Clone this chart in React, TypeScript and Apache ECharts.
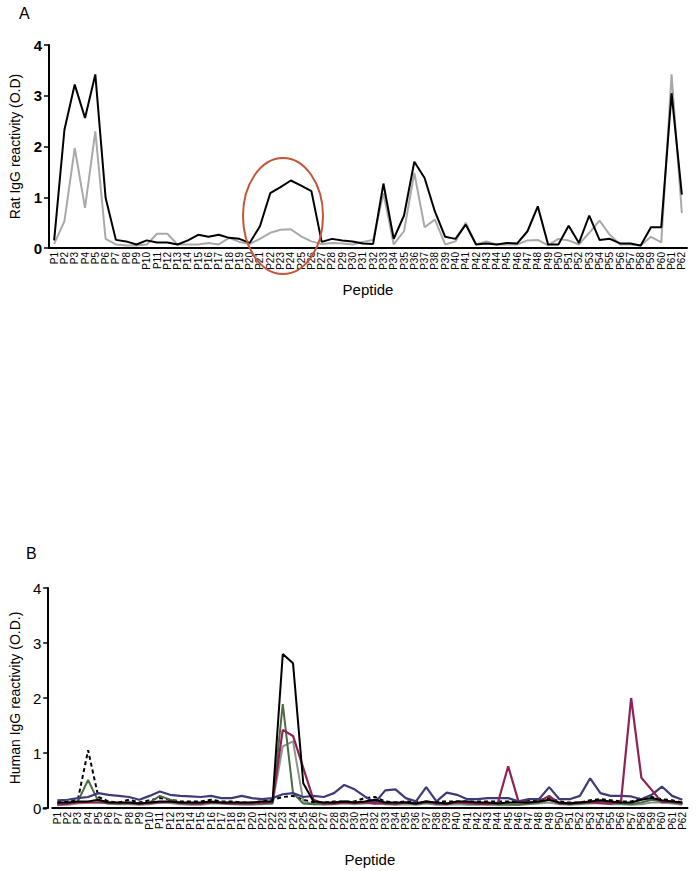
import React, { useEffect, useRef } from "react";
import * as echarts from "echarts";

const peptides: string[] = Array.from({ length: 62 }, (_, i) => "P" + (i + 1));

// Panel A (rat)
const ratBlack = [0.15,2.33,3.22,2.56,3.42,0.99,0.16,0.13,0.07,0.15,
  0.11,0.11,0.07,0.15,0.26,0.22,0.26,0.2,0.18,0.1,
  0.43,1.08,1.2,1.33,1.23,1.12,0.12,0.18,0.15,0.13,
  0.09,0.08,1.27,0.18,0.64,1.7,1.38,0.72,0.22,0.18,
  0.46,0.07,0.09,0.07,0.1,0.09,0.33,0.82,0.07,0.07,
  0.44,0.1,0.64,0.16,0.18,0.09,0.09,0.05,0.41,0.41,
  3.05,1.05];
const ratGray = [0.08,0.53,1.97,0.79,2.3,0.18,0.07,0.05,0.05,0.07,
  0.28,0.28,0.07,0.07,0.07,0.1,0.07,0.2,0.12,0.08,
  0.18,0.3,0.36,0.37,0.23,0.13,0.08,0.1,0.09,0.07,
  0.12,0.16,1.08,0.07,0.33,1.48,0.41,0.56,0.07,0.13,
  0.5,0.07,0.13,0.07,0.07,0.07,0.15,0.16,0.05,0.18,
  0.15,0.07,0.3,0.54,0.26,0.07,0.07,0.05,0.22,0.11,
  3.42,0.69];

// Panel B (human)
const humBlack = [0.1,0.1,0.12,0.12,0.15,0.1,0.1,0.1,0.08,0.1,
  0.12,0.12,0.1,0.1,0.1,0.12,0.1,0.1,0.1,0.1,
  0.12,0.12,2.8,2.63,0.45,0.12,0.1,0.1,0.12,0.1,
  0.12,0.15,0.1,0.1,0.1,0.08,0.12,0.1,0.08,0.12,
  0.12,0.1,0.1,0.08,0.1,0.1,0.1,0.12,0.15,0.1,
  0.08,0.1,0.12,0.14,0.12,0.1,0.1,0.15,0.18,0.14,
  0.12,0.1];
const humDashed = [0.1,0.12,0.15,1.05,0.2,0.12,0.1,0.15,0.1,0.14,
  0.18,0.15,0.12,0.12,0.12,0.15,0.12,0.12,0.1,0.1,
  0.12,0.15,0.2,0.22,0.15,0.1,0.1,0.12,0.12,0.12,
  0.18,0.2,0.12,0.1,0.12,0.12,0.1,0.12,0.12,0.12,
  0.12,0.12,0.12,0.12,0.12,0.12,0.14,0.14,0.18,0.12,
  0.1,0.1,0.14,0.16,0.14,0.12,0.12,0.18,0.2,0.16,
  0.14,0.1];
const humGreen = [0.06,0.08,0.12,0.51,0.12,0.08,0.08,0.1,0.07,0.1,
  0.22,0.15,0.1,0.08,0.08,0.1,0.1,0.09,0.08,0.08,
  0.08,0.08,1.89,0.27,0.08,0.07,0.08,0.1,0.12,0.1,
  0.1,0.12,0.08,0.07,0.1,0.07,0.1,0.08,0.08,0.1,
  0.08,0.07,0.08,0.07,0.07,0.06,0.08,0.1,0.15,0.08,
  0.07,0.08,0.1,0.12,0.1,0.08,0.07,0.1,0.15,0.12,
  0.1,0.08];
const humGray = [0.05,0.06,0.08,0.1,0.1,0.08,0.07,0.07,0.06,0.07,
  0.1,0.09,0.07,0.06,0.06,0.08,0.08,0.07,0.06,0.06,
  0.07,0.08,1.12,1.21,0.12,0.07,0.06,0.07,0.08,0.07,
  0.08,0.09,0.07,0.06,0.07,0.06,0.08,0.06,0.06,0.07,
  0.06,0.06,0.06,0.05,0.05,0.06,0.07,0.08,0.1,0.07,
  0.06,0.07,0.08,0.09,0.07,0.07,0.06,0.07,0.1,0.1,
  0.08,0.06];
const humMaroon = [0.07,0.08,0.1,0.1,0.1,0.1,0.09,0.09,0.08,0.09,
  0.1,0.11,0.09,0.08,0.08,0.1,0.09,0.08,0.08,0.08,
  0.09,0.12,1.42,1.31,0.73,0.15,0.08,0.08,0.1,0.09,
  0.1,0.08,0.09,0.08,0.1,0.08,0.12,0.08,0.07,0.1,
  0.09,0.08,0.07,0.1,0.76,0.12,0.1,0.12,0.22,0.08,
  0.09,0.1,0.1,0.09,0.08,0.1,2.0,0.55,0.33,0.1,
  0.12,0.08];
const humNavy = [0.14,0.15,0.18,0.2,0.27,0.24,0.22,0.2,0.15,0.22,
  0.3,0.24,0.22,0.21,0.2,0.22,0.18,0.18,0.22,0.18,
  0.16,0.18,0.25,0.27,0.2,0.22,0.2,0.27,0.42,0.34,
  0.21,0.1,0.32,0.34,0.18,0.12,0.38,0.12,0.28,0.24,
  0.16,0.16,0.18,0.18,0.18,0.12,0.16,0.16,0.38,0.16,
  0.16,0.22,0.54,0.27,0.22,0.22,0.21,0.16,0.24,0.39,
  0.22,0.15];

const FONT = "'Liberation Sans', Arial, Helvetica, sans-serif";

export default function App() {
  const ref = useRef<HTMLDivElement>(null);
  useEffect(() => {
    document.body.style.margin = "0";
    if (!ref.current) return;
    const chart = echarts.init(ref.current, null, { renderer: "svg" });

    const xAxisCommon = (gridIndex: number, gap: number) => ({
      type: "category",
      gridIndex,
      data: peptides,
      boundaryGap: true,
      name: "Peptide",
      nameLocation: "middle",
      nameGap: gap,
      nameTextStyle: { fontFamily: FONT, fontSize: 15, color: "#000" },
      axisLine: { lineStyle: { color: "#000", width: 2 } },
      axisTick: { alignWithLabel: true, length: 5, lineStyle: { color: "#000", width: 1.5 } },
      axisLabel: { rotate: 90, fontSize: 10, fontFamily: FONT, color: "#000", margin: 4, interval: 0 },
      splitLine: { show: false },
    });

    const yAxisCommon = (gridIndex: number, name: string, bold: boolean, gap: number, offset: number) => ({
      type: "value",
      gridIndex,
      min: 0,
      max: 4,
      interval: 1,
      offset,
      name,
      nameLocation: "middle",
      nameGap: gap,
      nameTextStyle: { fontFamily: FONT, fontSize: 14, color: "#000" },
      axisLine: { show: true, lineStyle: { color: "#000", width: 2 } },
      axisTick: { show: true, length: 5, lineStyle: { color: "#000", width: 1.5 } },
      axisLabel: {
        fontSize: 15,
        fontFamily: FONT,
        fontWeight: bold ? "bold" : "normal",
        color: "#000",
        margin: 7,
      },
      splitLine: { show: false },
    });

    const line = (name: string, data: number[], color: string, width: number, xi: number, dashed = false) => ({
      type: "line",
      name,
      data,
      xAxisIndex: xi,
      yAxisIndex: xi,
      showSymbol: false,
      symbol: "none",
      lineStyle: { color, width, type: dashed ? [4, 3] : "solid" },
      itemStyle: { color },
      z: 2,
    });

    chart.setOption({
      animation: false,
      backgroundColor: "#fff",
      grid: [
        { left: 38, top: 45, width: 649, height: 203 },
        { left: 46.5, top: 588, width: 641, height: 220 },
      ],
      xAxis: [xAxisCommon(0, 34), xAxisCommon(1, 44)],
      yAxis: [
        yAxisCommon(0, "Rat IgG reactivity (O.D)", true, 27, 0),
        yAxisCommon(1, "Human IgG reactivity (O.D.)", false, 25, 4),
      ],
      series: [
        line("Rat gray", ratGray, "#a9a9a9", 2, 0),
        line("Rat black", ratBlack, "#000000", 2, 0),
        line("Dashed", humDashed, "#000000", 2, 1, true),
        line("Gray", humGray, "#8b978a", 2, 1),
        line("Green", humGreen, "#4e6b45", 2, 1),
        line("Navy", humNavy, "#3d3b78", 2.2, 1),
        line("Maroon", humMaroon, "#8e2456", 2.2, 1),
        line("Black", humBlack, "#000000", 2, 1),
      ],
      graphic: [
        { type: "text", left: 19, top: 5, style: { text: "A", font: `16px ${FONT}`, fill: "#000" } },
        { type: "text", left: 26, top: 545, style: { text: "B", font: `16px ${FONT}`, fill: "#000" } },
        { type: "line", shape: { x1: 42.7, y1: 808.5, x2: 47, y2: 808.5 }, style: { stroke: "#000", lineWidth: 2 } },
        {
          type: "ellipse",
          shape: { cx: 283, cy: 216, rx: 40, ry: 58 },
          style: { fill: "none", stroke: "#c4553b", lineWidth: 2 },
          z: 10,
        },
      ],
    });
    return () => chart.dispose();
  }, []);
  return <div ref={ref} style={{ width: 696, height: 871 }} />;
}
